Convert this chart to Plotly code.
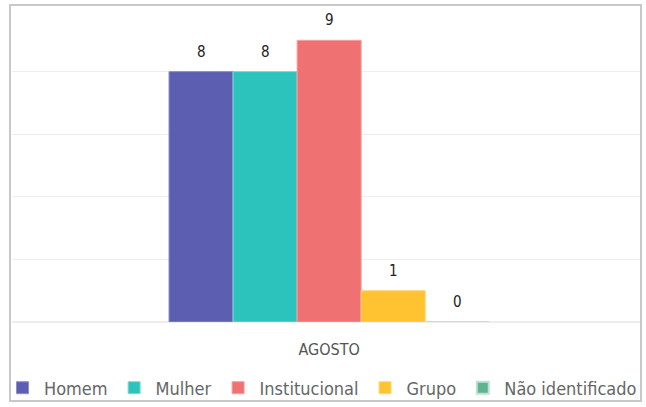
import plotly.graph_objects as go

categories = ["AGOSTO"]
series_names = ["Homem", "Mulher", "Institucional", "Grupo", "Não identificado"]
series_values = [[8], [8], [9], [1], [0]]
colors = ["#5C5FB1", "#2BC3BC", "#F07171", "#FFC331", "#5EB48C"]
line_colors = ["#8E90CB", "#7FDAD5", "#F5A0A0", "#FFD77A", "#BFE3D2"]
line_widths = [1, 1, 1, 1, 2]

FONT = "DejaVu Sans Condensed, Liberation Sans Narrow, Roboto, sans-serif"

W, H = 646, 407
ml, mr, mt, mb = 12, 6, 9, 85
pw, ph = W - ml - mr, H - mt - mb
BARGAP = 0.49
XRANGE = [-0.505, 0.495]
n = len(series_names)
bar_px = pw * (1 - BARGAP) / n / (XRANGE[1] - XRANGE[0])

fig = go.Figure()
annotations = []
for i, (name, vals, c, lc, lw) in enumerate(zip(series_names, series_values, colors, line_colors, line_widths)):
    fig.add_trace(go.Bar(
        x=categories, y=vals, name=name,
        marker=dict(color=c, line=dict(color=lc, width=lw)),
        hoverinfo="skip",
    ))
    for cat, v in zip(categories, vals):
        annotations.append(dict(
            x=cat, y=v, xref="x", yref="y", text=str(v), showarrow=False,
            xanchor="center", yanchor="bottom", yshift=9,
            xshift=(i - (n - 1) / 2) * bar_px,
            font=dict(size=15, color="#222222", family=FONT),
        ))

def px(x):
    return (x - ml) / pw

def py(y):
    return (H - mb - y) / ph

fig.update_layout(
    width=W, height=H,
    margin=dict(l=ml, r=mr, t=mt, b=mb, autoexpand=False),
    paper_bgcolor="white", plot_bgcolor="white",
    barmode="group", bargap=BARGAP, bargroupgap=0,
    font=dict(family=FONT, color="#555555"),
    showlegend=True,
    legend=dict(orientation="h", x=px(1), xanchor="left", y=py(388), yanchor="middle",
                font=dict(size=18, color="#666666", family=FONT),
                itemwidth=33, traceorder="normal", bgcolor="rgba(0,0,0,0)"),
    xaxis=dict(showgrid=False, showline=False, zeroline=False, ticks="",
               range=XRANGE,
               tickfont=dict(size=16, color="#555555", family=FONT), ticklabelstandoff=16),
    yaxis=dict(range=[0, 10], dtick=2, showticklabels=False, gridcolor="#EDEDED",
               gridwidth=1, zeroline=True, zerolinecolor="#EDEDED", showline=False),
    annotations=annotations,
    shapes=[dict(type="rect", xref="paper", yref="paper",
                 x0=px(10), x1=px(641), y0=py(401), y1=py(5),
                 line=dict(color="#C8C8C8", width=2), fillcolor="rgba(0,0,0,0)", layer="above")],
)

fig.write_html("out.html", config={"displayModeBar": False},
               post_script="document.body.style.margin='0px';")
